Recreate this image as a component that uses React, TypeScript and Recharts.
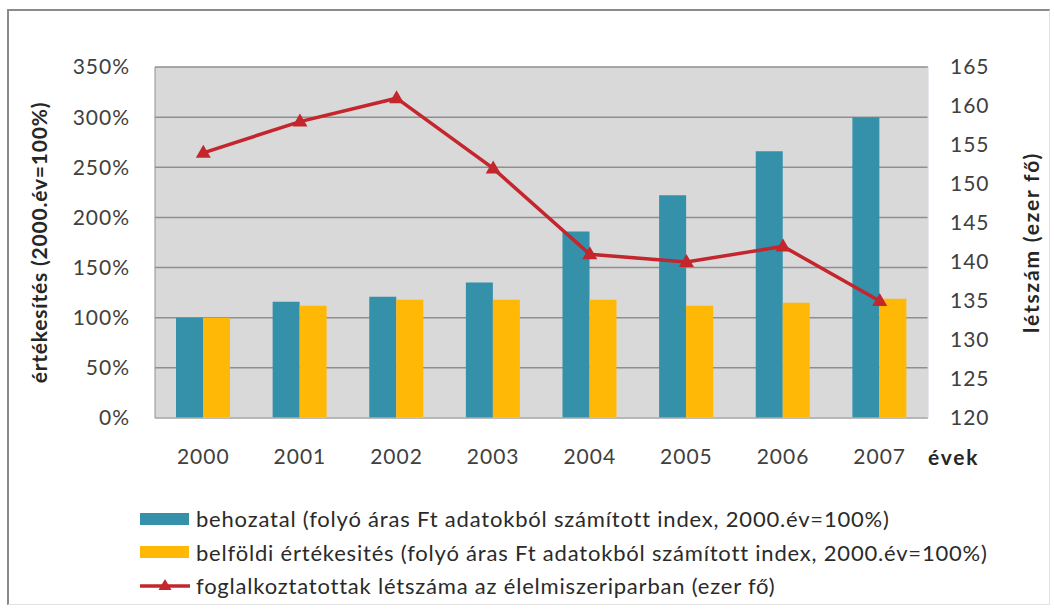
import {
  Bar,
  CartesianGrid,
  ComposedChart,
  Legend,
  Line,
  XAxis,
  YAxis,
} from 'recharts'

const YEARS = ['2000', '2001', '2002', '2003', '2004', '2005', '2006', '2007']
const BEHOZATAL = [100, 116, 121, 135, 186, 222, 266, 300]
const BELFOLDI = [100, 112, 118, 118, 118, 112, 115, 119]
const LETSZAM = [154, 158, 161, 152, 141, 140, 142, 135]
const PCT_TICKS = [0, 50, 100, 150, 200, 250, 300, 350]
const HEAD_TICKS = [120, 125, 130, 135, 140, 145, 150, 155, 160, 165]

const TEAL = '#3590aa'
const ORANGE = '#ffb805'
const RED = '#c3262c'
const FONT = 'Lato, "Open Sans", sans-serif'
const TICK = { fill: '#404040', fontSize: 21, fontFamily: FONT, letterSpacing: 1 }
const AXIS_TITLE = {
  textAnchor: 'middle' as const,
  fill: '#262626',
  fontSize: 21,
  fontWeight: 700,
  fontFamily: FONT,
  letterSpacing: 1.8,
}

const LEGEND_ITEMS = [
  { key: 'behozatal', label: 'behozatal (folyó áras Ft adatokból számított index, 2000.év=100%)', color: TEAL, kind: 'bar' },
  { key: 'belfoldi', label: 'belföldi értékesités (folyó áras Ft adatokból számított index, 2000.év=100%)', color: ORANGE, kind: 'bar' },
  { key: 'letszam', label: 'foglalkoztatottak létszáma az élelmiszeriparban (ezer fő)', color: RED, kind: 'line' },
]

const data = YEARS.map((year, i) => ({
  year,
  behozatal: BEHOZATAL[i],
  belfoldi: BELFOLDI[i],
  letszam: LETSZAM[i],
}))

function Triangle({ cx, cy }: { cx?: number; cy?: number }) {
  if (cx == null || cy == null) return null
  return <path d={`M${cx},${cy - 8} L${cx + 7.5},${cy + 5} L${cx - 7.5},${cy + 5} Z`} fill={RED} />
}

function LegendContent() {
  return (
    <div style={{ fontFamily: FONT, fontSize: 22, letterSpacing: 0.8, color: '#2a2a2a' }}>
      {LEGEND_ITEMS.map((item) => (
        <div key={item.key} style={{ display: 'flex', alignItems: 'center', height: 33.5, whiteSpace: 'nowrap' }}>
          <svg width={52} height={16} style={{ marginRight: 4, flexShrink: 0 }}>
            {item.kind === 'bar' ? (
              <rect x={0} y={2} width={49} height={12} fill={item.color} />
            ) : (
              <>
                <line x1={0} y1={8} x2={50} y2={8} stroke={item.color} strokeWidth={3.5} />
                <path d="M25,1 L31.5,12 L18.5,12 Z" fill={item.color} />
              </>
            )}
          </svg>
          <span>{item.label}</span>
        </div>
      ))}
    </div>
  )
}

export default function App() {
  return (
    <div
      style={{
        position: 'absolute',
        left: 0,
        top: 0,
        width: 1054,
        height: 612,
        background: '#fff',
      }}
    >
      <div
        style={{
          position: 'absolute',
          left: 7,
          top: 9,
          width: 1040,
          height: 593,
          borderTop: '2px solid #8a8a8a',
          borderLeft: '2px solid #8a8a8a',
          borderRight: '1px solid #e2e2e2',
          borderBottom: '1px solid #e2e2e2',
        }}
      />
      <ComposedChart
        width={1054}
        height={612}
        data={data}
        margin={{ top: 67, right: 0, bottom: 0, left: 0 }}
        barGap={0}
        barCategoryGap="22%"
      >
        <CartesianGrid
          yAxisId="pct"
          vertical={false}
          fill="#d9d9d9"
          stroke="#8f8f8f"
          strokeWidth={1.5}
        />
        <XAxis
          dataKey="year"
          height={194}
          tick={TICK}
          tickLine={false}
          tickSize={6}
          tickMargin={25}
          axisLine={{ stroke: '#c8c8c8' }}
          label={{
            value: 'évek',
            position: 'right',
            dx: -5,
            dy: -57,
            style: { ...AXIS_TITLE, textAnchor: 'start' },
          }}
        />
        <YAxis
          yAxisId="pct"
          domain={[0, 350]}
          ticks={PCT_TICKS}
          tickFormatter={(v: number) => `${v}%`}
          width={155}
          tick={TICK}
          tickLine={false}
          tickSize={6}
          tickMargin={19}
          axisLine={{ stroke: '#909090' }}
          label={{
            value: 'értékesítés (2000.év=100%)',
            angle: -90,
            position: 'insideLeft',
            offset: 40,
            style: { ...AXIS_TITLE, letterSpacing: 0.8 },
          }}
        />
        <YAxis
          yAxisId="head"
          orientation="right"
          domain={[120, 165]}
          ticks={HEAD_TICKS}
          width={126}
          tick={TICK}
          tickLine={false}
          tickSize={6}
          tickMargin={16}
          axisLine={{ stroke: '#d8d2e4' }}
          label={{
            value: 'létszám (ezer fő)',
            angle: -90,
            position: 'insideRight',
            offset: 22,
            style: AXIS_TITLE,
          }}
        />
        <Bar yAxisId="pct" dataKey="behozatal" fill={TEAL} barSize={27} isAnimationActive={false} />
        <Bar yAxisId="pct" dataKey="belfoldi" fill={ORANGE} barSize={27} isAnimationActive={false} />
        <Line
          yAxisId="head"
          dataKey="letszam"
          stroke={RED}
          strokeWidth={3.5}
          dot={<Triangle />}
          activeDot={false}
          isAnimationActive={false}
        />
        <Legend
          layout="vertical"
          align="center"
          verticalAlign="middle"
          content={<LegendContent />}
          wrapperStyle={{ left: 140, top: 502, width: 900 }}
        />
      </ComposedChart>
    </div>
  )
}
